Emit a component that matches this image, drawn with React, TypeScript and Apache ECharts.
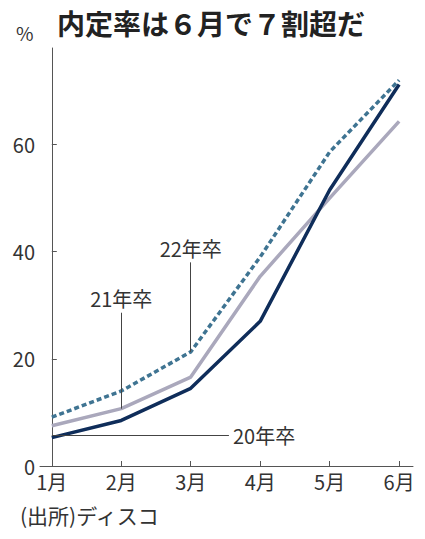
// 内定率 line chart (ディスコ調べ) with ECharts

import { useEffect, useRef } from 'react';
import * as echarts from 'echarts';

const months = ['1月', '2月', '3月', '4月', '5月', '6月'];
const grad20 = [5.3, 8.5, 14.5, 27.0, 51.5, 71.2];
const grad21 = [7.5, 10.7, 16.6, 35.4, 50.0, 64.3];
const grad22 = [9.1, 14.0, 21.3, 39.0, 58.6, 72.0];
const yTicks = [0, 20, 40, 60];

const FONT = '"Noto Sans CJK JP", "Noto Sans", sans-serif';
const TEXT = '#333';
const AXIS = '#555';

const monthIdx = months.map((_, i) => i);
const toPoints = (vals: number[]) => vals.map((v, i) => [i, v]);

// leader line for a series label
function leader(from: number[], to: number[], text: string) {
    return {
        silent: true,
        symbol: ['none', 'none'],
        lineStyle: { color: '#444', width: 1, type: 'solid' },
        label: {
            show: true,
            position: 'end',
            formatter: text,
            color: TEXT,
            fontSize: 20,
            fontFamily: FONT,
            distance: 4,
        },
        data: [[{ coord: from }, { coord: to }]],
    };
}

export default function App() {
    const chartRef = useRef<HTMLDivElement>(null);

    useEffect(() => {
        if (!chartRef.current) return;
        const chart = echarts.init(chartRef.current, null, { renderer: 'svg' });

        const option: echarts.EChartsOption = {
            animation: false,
            backgroundColor: '#fff',
            title: {
                text: '内定率は６月で７割超だ',
                left: 52,
                top: 4,
                textStyle: { fontSize: 28, fontWeight: 'bold', color: '#222', fontFamily: FONT },
            },
            grid: { left: 40, right: 12, top: 48, bottom: 73 },
            xAxis: {
                type: 'value',
                min: -0.17,
                max: 5.2,
                splitLine: { show: false },
                axisLine: { show: true, lineStyle: { color: AXIS, width: 1 } },
                axisTick: { show: true, inside: true, length: 5, lineStyle: { color: AXIS }, customValues: monthIdx },
                axisLabel: {
                    customValues: monthIdx,
                    formatter: (v: number) => months[Math.round(v)] ?? '',
                    color: TEXT,
                    fontSize: 20,
                    fontFamily: FONT,
                    margin: 5,
                },
            },
            yAxis: {
                type: 'value',
                min: 0,
                max: 78,
                splitLine: { show: false },
                axisLine: { show: true, lineStyle: { color: AXIS, width: 1 } },
                axisTick: { show: true, inside: true, length: 5, lineStyle: { color: AXIS }, customValues: yTicks },
                axisLabel: {
                    customValues: yTicks,
                    color: TEXT,
                    fontSize: 20,
                    fontFamily: FONT,
                    margin: 5,
                },
            },
            graphic: [
                {
                    type: 'text',
                    left: 16,
                    top: 23,
                    style: { text: '%', fontSize: 19, fill: TEXT, fontFamily: FONT },
                },
                {
                    type: 'text',
                    left: 20,
                    top: 504,
                    style: { text: '(出所)ディスコ', fontSize: 21, fill: TEXT, fontFamily: FONT },
                },
            ],
            series: [
                {
                    name: '21年卒',
                    type: 'line',
                    data: toPoints(grad21),
                    showSymbol: false,
                    lineStyle: { color: '#aaa8bc', width: 3.5 },
                    markLine: leader([1, grad21[1]], [1, 28.6], '21年卒') as any,
                },
                {
                    name: '20年卒',
                    type: 'line',
                    data: toPoints(grad20),
                    showSymbol: false,
                    lineStyle: { color: '#0f2d5a', width: 3.5 },
                    markLine: leader([0, 5.7], [2.55, 5.7], '20年卒') as any,
                },
                {
                    name: '22年卒',
                    type: 'line',
                    data: toPoints(grad22),
                    showSymbol: false,
                    lineStyle: { color: '#3f7492', width: 3.5, type: [5, 3] },
                    markLine: leader([2, grad22[2]], [2, 38], '22年卒') as any,
                },
            ],
        };

        chart.setOption(option);

        return () => {
            chart.dispose();
        };
    }, []);

    return (
        <div
            ref={chartRef}
            style={{ position: 'fixed', left: 0, top: 0, width: '425px', height: '539px' }}
        />
    );
}
